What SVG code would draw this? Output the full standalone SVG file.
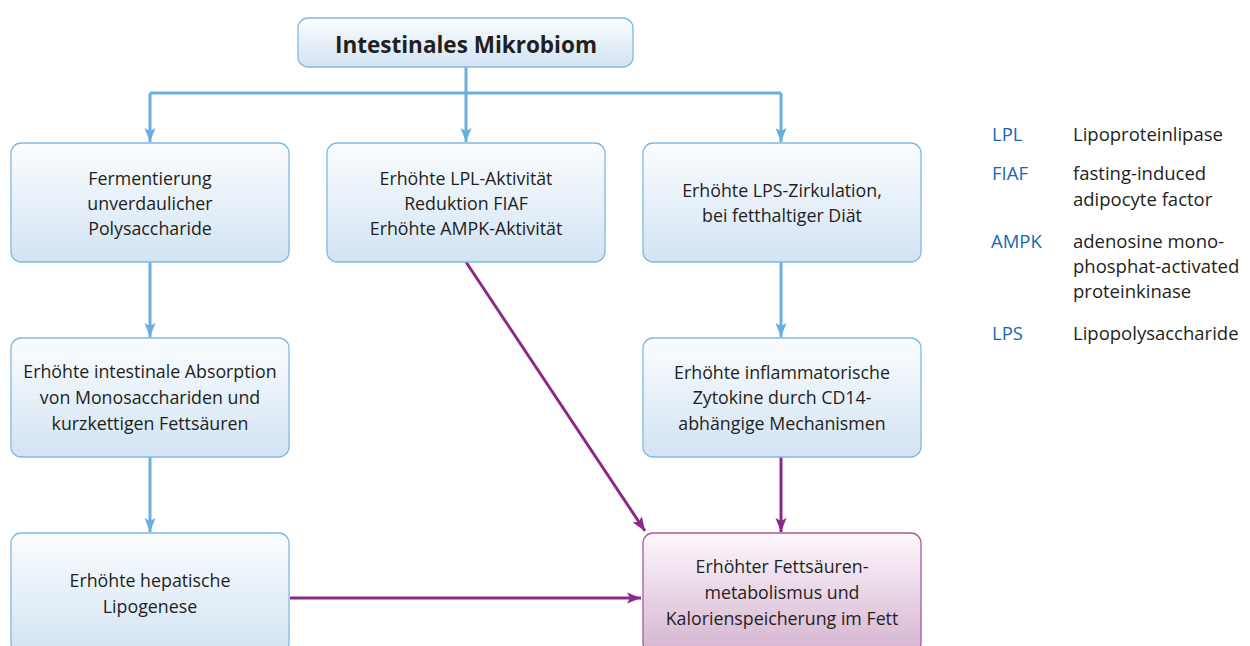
<svg xmlns="http://www.w3.org/2000/svg" width="1250" height="646" viewBox="0 0 1250 646">
<defs>
<linearGradient id="gb" x1="0" y1="0" x2="0" y2="1">
<stop offset="0" stop-color="#fbfdfe"/>
<stop offset="1" stop-color="#d2e3f3"/>
</linearGradient>
<linearGradient id="gp" x1="0" y1="0" x2="0" y2="1">
<stop offset="0" stop-color="#fdf8fc"/>
<stop offset="1" stop-color="#d6b3d1"/>
</linearGradient>
<marker id="ab" markerUnits="userSpaceOnUse" markerWidth="16" markerHeight="12" refX="14" refY="6" orient="auto">
<path d="M0,0.5 L14,6 L0,11.5 L3,6 Z" fill="#6aaee0"/>
</marker>
<marker id="ap" markerUnits="userSpaceOnUse" markerWidth="16" markerHeight="12" refX="14" refY="6" orient="auto">
<path d="M0,0.5 L14,6 L0,11.5 L3,6 Z" fill="#8b2a86"/>
</marker>
<style>
.bx{fill:url(#gb);stroke:#82b8e4;stroke-width:1.3}
.px{fill:url(#gp);stroke:#a55a9f;stroke-width:1.3}
.t{font-family:"Open Sans","Liberation Sans",sans-serif;font-size:17.8px;fill:#231f20;text-anchor:middle}
.ti{font-family:"Open Sans","Liberation Sans",sans-serif;font-size:22.5px;font-weight:bold;fill:#231f20;text-anchor:middle}
.lb{stroke:#6aaee0;stroke-width:3;fill:none}
.lp{stroke:#8b2a86;stroke-width:3;fill:none}
.ab{font-family:"Open Sans","Liberation Sans",sans-serif;font-size:18.5px;fill:#1569b5}
.df{font-family:"Open Sans","Liberation Sans",sans-serif;font-size:18.5px;fill:#231f20}
</style>
</defs>
<rect width="1250" height="646" fill="#ffffff"/>
<g id="connectors">
<path class="lb" d="M150,93 H781"/>
<path class="lb" d="M466,67 V93"/>
<path class="lb" d="M150,93 V142" marker-end="url(#ab)"/>
<path class="lb" d="M466,93 V142" marker-end="url(#ab)"/>
<path class="lb" d="M781,93 V142" marker-end="url(#ab)"/>
<path class="lb" d="M150,262 V337" marker-end="url(#ab)"/>
<path class="lb" d="M150,457 V532" marker-end="url(#ab)"/>
<path class="lb" d="M781,262 V337" marker-end="url(#ab)"/>
<path class="lp" d="M781,457 V532" marker-end="url(#ap)"/>
<path class="lp" d="M290,598 H641" marker-end="url(#ap)"/>
<path class="lp" d="M466,262 L645,531" marker-end="url(#ap)"/>
</g>
<g id="n_top">
<rect class="bx" x="298" y="18" width="335" height="49" rx="10"/>
<text class="ti" x="466" y="53">Intestinales Mikrobiom</text>
</g>
<g id="n_ferment">
<rect class="bx" x="11" y="143" width="278" height="119" rx="10"/>
<text class="t" x="150" y="185">Fermentierung</text>
<text class="t" x="150" y="210">unverdaulicher</text>
<text class="t" x="150" y="235">Polysaccharide</text>
</g>
<g id="n_lpl">
<rect class="bx" x="327" y="143" width="278" height="119" rx="10"/>
<text class="t" x="466" y="185">Erhöhte LPL-Aktivität</text>
<text class="t" x="466" y="210">Reduktion FIAF</text>
<text class="t" x="466" y="235">Erhöhte AMPK-Aktivität</text>
</g>
<g id="n_lps">
<rect class="bx" x="643" y="143" width="278" height="119" rx="10"/>
<text class="t" x="782" y="197">Erhöhte LPS-Zirkulation,</text>
<text class="t" x="782" y="222">bei fetthaltiger Diät</text>
</g>
<g id="n_absorption">
<rect class="bx" x="11" y="338" width="278" height="119" rx="10"/>
<text class="t" x="150" y="378">Erhöhte intestinale Absorption</text>
<text class="t" x="150" y="404">von Monosacchariden und</text>
<text class="t" x="150" y="430">kurzkettigen Fettsäuren</text>
</g>
<g id="n_zytokine">
<rect class="bx" x="643" y="338" width="278" height="119" rx="10"/>
<text class="t" x="782" y="379">Erhöhte inflammatorische</text>
<text class="t" x="782" y="404">Zytokine durch CD14-</text>
<text class="t" x="782" y="430">abhängige Mechanismen</text>
</g>
<g id="n_lipogenese">
<rect class="bx" x="11" y="533" width="278" height="120" rx="10"/>
<text class="t" x="150" y="587">Erhöhte hepatische</text>
<text class="t" x="150" y="613">Lipogenese</text>
</g>
<g id="n_fett">
<rect class="px" x="643" y="533" width="278" height="120" rx="10"/>
<text class="t" x="782" y="573">Erhöhter Fettsäuren-</text>
<text class="t" x="782" y="599">metabolismus und</text>
<text class="t" x="782" y="625">Kalorienspeicherung im Fett</text>
</g>
<g id="legend">
<text class="ab" x="992" y="141">LPL</text>
<text class="df" x="1073" y="141">Lipoproteinlipase</text>
<text class="ab" x="992" y="180">FIAF</text>
<text class="df" x="1073" y="180">fasting-induced</text>
<text class="df" x="1073" y="206">adipocyte factor</text>
<text class="ab" x="991" y="248">AMPK</text>
<text class="df" x="1073" y="248">adenosine mono-</text>
<text class="df" x="1073" y="273">phosphat-activated</text>
<text class="df" x="1073" y="298">proteinkinase</text>
<text class="ab" x="992" y="340">LPS</text>
<text class="df" x="1073" y="340">Lipopolysaccharide</text>
</g>
</svg>
